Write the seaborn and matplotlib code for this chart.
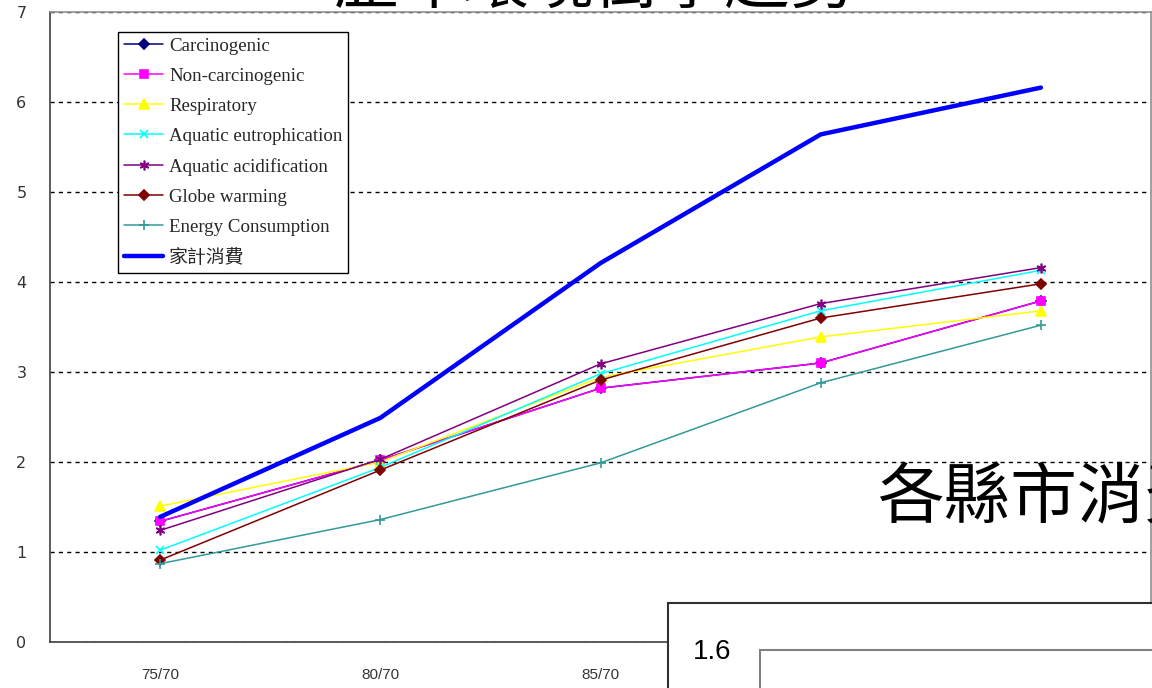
import matplotlib
matplotlib.use("Agg")
import matplotlib.pyplot as plt
import matplotlib.patches as mpatches
from matplotlib.font_manager import FontProperties
import seaborn as sns
import pandas as pd

categories = ["75/70", "80/70", "85/70", "90/70", "95/70"]
carcinogenic = [1.34, 2.02, 2.82, 3.10, 3.79]
non_carcinogenic = [1.34, 2.02, 2.82, 3.10, 3.79]
respiratory = [1.51, 2.00, 2.94, 3.39, 3.68]
aquatic_eutrophication = [1.02, 1.94, 2.98, 3.68, 4.13]
aquatic_acidification = [1.24, 2.03, 3.09, 3.76, 4.16]
globe_warming = [0.91, 1.91, 2.91, 3.60, 3.98]
energy_consumption = [0.87, 1.36, 1.99, 2.88, 3.52]
household_consumption = [1.39, 2.49, 4.21, 5.64, 6.16]

series_names = ["Carcinogenic", "Non-carcinogenic", "Respiratory",
                "Aquatic eutrophication", "Aquatic acidification",
                "Globe warming", "Energy Consumption", "家計消費"]
series_values = [carcinogenic, non_carcinogenic, respiratory,
                 aquatic_eutrophication, aquatic_acidification,
                 globe_warming, energy_consumption, household_consumption]
y_ticks = [0, 1, 2, 3, 4, 5, 6, 7]
title_text = "歷年環境衝擊趨勢"
overlay_text = "各縣市消費"
inset_label = "1.6"

styles = {
    "Carcinogenic": dict(color="#000080", marker="D", markersize=5, lw=1.1),
    "Non-carcinogenic": dict(color="#FF00FF", marker="s", markersize=6, lw=1.1),
    "Respiratory": dict(color="#FFFF00", marker="^", markersize=7, lw=1.1),
    "Aquatic eutrophication": dict(color="#00FFFF", marker="x", markersize=6, lw=1.1),
    "Aquatic acidification": dict(color="#800080", marker=(6, 2, 0), markersize=7, lw=1.1),
    "Globe warming": dict(color="#800000", marker="D", markersize=5, lw=1.1),
    "Energy Consumption": dict(color="#339999", marker="+", markersize=7, lw=1.1),
    "家計消費": dict(color="#0000FF", marker=None, markersize=0, lw=3.2),
}

sns.set_style("white")
plt.rcParams["font.family"] = ["DejaVu Sans", "Noto Sans CJK TC"]

fig = plt.figure(figsize=(11.52, 6.88), dpi=100)
ax = fig.add_axes([50 / 1152, 46 / 688, 1101 / 1152, 630 / 688])

x_pos = list(range(len(categories)))
for name, vals in zip(series_names, series_values):
    st = styles[name]
    df = pd.DataFrame({"x": x_pos, "y": vals})
    kw = dict(color=st["color"], linewidth=st["lw"], label=name)
    if st["marker"] is not None:
        kw.update(marker=st["marker"], markersize=st["markersize"],
                  markeredgecolor=st["color"], markerfacecolor=st["color"],
                  markeredgewidth=1.2)
    sns.lineplot(data=df, x="x", y="y", ax=ax, **kw)

ax.set_xlim(-0.5, len(categories) - 0.5)
ax.set_ylim(0, 7)
ax.set_yticks(y_ticks)
ax.set_yticklabels([str(t) for t in y_ticks])
ax.set_xticks([i + 0.5 for i in range(len(categories) - 1)])
ax.set_xticklabels([])
ax.set_xticks(x_pos, minor=True)
ax.set_xticklabels(categories, minor=True)
ax.tick_params(axis="x", which="major", direction="in", length=6, color="#404040", width=1)
ax.tick_params(axis="x", which="minor", length=0, pad=19, labelsize=11, labelcolor="#333333")
ax.tick_params(axis="y", which="major", length=0, pad=17, labelsize=11.5, labelcolor="#333333")
for lbl in ax.get_xticklabels(minor=True):
    lbl.set_fontfamily("Liberation Sans")
ax.set_xlabel("")
ax.set_ylabel("")

ax.yaxis.grid(True, linestyle=(0, (3, 3)), color="black", linewidth=1)
ax.xaxis.grid(False)
ax.set_axisbelow(True)
for s in ["left", "bottom"]:
    ax.spines[s].set_color("#404040")
    ax.spines[s].set_linewidth(1.2)
for s in ["top", "right"]:
    ax.spines[s].set_color("#909090")
    ax.spines[s].set_linewidth(1.2)

leg_font = FontProperties(family=["Liberation Serif", "Noto Sans CJK TC"], size=13.6)
leg = ax.legend(loc="upper left", bbox_to_anchor=(68 / 1101, 610 / 630), prop=leg_font,
                frameon=True, fancybox=False, shadow=False, framealpha=1,
                edgecolor="black", handlelength=2.1, labelspacing=0.68,
                borderpad=0.3, handletextpad=0.3, borderaxespad=0)
leg.get_frame().set_linewidth(1.0)

# Title (partially cut off at top)
fig.text(0.516, 1 - 3 / 688, title_text, ha="center", va="baseline",
         fontsize=47, family=["Noto Sans CJK TC"], color="black")

# Overlay slide text
fig.text(877 / 1152, 1 - 500 / 688, overlay_text, ha="left", va="center",
         fontsize=48, family=["Noto Sans CJK TC"], color="black", zorder=10)

# Inset box bottom right
box = mpatches.Rectangle((668 / 1152, -0.2), 1.0, 0.2 + (1 - 603 / 688),
                         transform=fig.transFigure, facecolor="white",
                         edgecolor="#303030", linewidth=1.5, zorder=10)
fig.add_artist(box)
inner = mpatches.Rectangle((760 / 1152, -0.2), 1.0, 0.2 + (1 - 650 / 688),
                           transform=fig.transFigure, facecolor="white",
                           edgecolor="#808080", linewidth=1.5, zorder=11)
fig.add_artist(inner)
fig.text(712 / 1152, 1 - 652 / 688, inset_label, ha="center", va="center",
         fontsize=20, family=["Liberation Sans"], color="black", zorder=12)

fig.savefig("out.png", dpi=100)
